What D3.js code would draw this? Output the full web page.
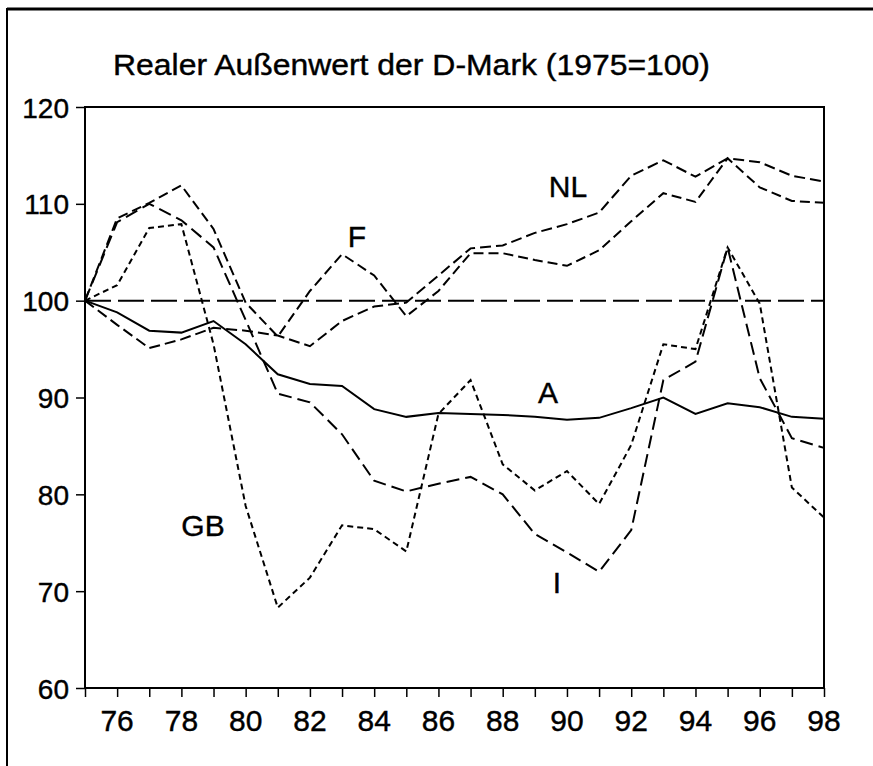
<!DOCTYPE html>
<html>
<head>
<meta charset="utf-8">
<script src="https://cdn.jsdelivr.net/npm/d3@7"></script>
<style>
  body { margin: 0; background: #fff; }
  svg { display: block; }
  text { font-family: "Liberation Sans", Arial, sans-serif; fill: #000; stroke: #000; stroke-width: 0.4px; }
</style>
</head>
<body>
<div id="chart"></div>
<script>
// years and series (1975 = 100)
var years = [1975, 1976, 1977, 1978, 1979, 1980, 1981, 1982, 1983, 1984, 1985, 1986,
             1987, 1988, 1989, 1990, 1991, 1992, 1993, 1994, 1995, 1996, 1997, 1998];
var seriesA  = [100, 98.8, 96.9, 96.7, 97.9, 95.5, 92.4, 91.4, 91.2, 88.8, 88.0, 88.4,
                88.3, 88.2, 88.0, 87.7, 87.9, 88.9, 90.0, 88.3, 89.4, 89.0, 88.0, 87.8];
var seriesNL = [100, 97.5, 95.1, 96.0, 97.2, 96.9, 96.4, 95.3, 97.9, 99.4, 99.8, 102.6,
                105.4, 105.7, 107.0, 107.9, 109.1, 112.9, 114.5, 112.8, 114.7, 114.3, 112.9, 112.3];
var seriesF  = [100, 108.5, 110.1, 111.9, 107.4, 99.8, 96.3, 101.0, 104.8, 102.6, 98.4, 101.0,
                104.9, 104.9, 104.2, 103.6, 105.2, 108.2, 111.1, 110.2, 114.7, 111.7, 110.3, 110.1];
var seriesGB = [100, 101.6, 107.5, 107.9, 95.5, 78.8, 68.3, 71.4, 76.8, 76.4, 74.1, 88.3,
                91.8, 83.1, 80.4, 82.4, 79.0, 85.1, 95.5, 95.0, 105.5, 99.7, 80.7, 77.6];
var seriesI  = [100, 108.1, 110.0, 108.3, 105.5, 98.0, 90.4, 89.5, 86.2, 81.4, 80.3, 81.1,
                81.8, 80.0, 75.9, 74.0, 72.0, 76.3, 91.8, 93.7, 105.5, 92.0, 85.8, 84.8];
var yTicks = [60, 70, 80, 90, 100, 110, 120];
var xLabelYears = [1976, 1978, 1980, 1982, 1984, 1986, 1988, 1990, 1992, 1994, 1996, 1998];
var titleText = "Realer Außenwert der D-Mark (1975=100)";

var w = 873, h = 766;
var mLeft = 85, mRight = 824, mTop = 107, mBottom = 688;

var svg = d3.select("#chart").append("svg")
    .attr("width", w)
    .attr("height", h);

// outer frame (top and left edge)
svg.append("line").attr("x1", 7).attr("x2", w).attr("y1", 9).attr("y2", 9)
   .attr("stroke", "#000").attr("stroke-width", 3);
svg.append("line").attr("x1", 7).attr("x2", 7).attr("y1", 8).attr("y2", h)
   .attr("stroke", "#000").attr("stroke-width", 2);

var x = d3.scaleLinear().domain([1975, 1998]).range([mLeft, mRight]);
var y = d3.scaleLinear().domain([60, 120]).range([mBottom, mTop]);

// title
svg.append("text")
   .attr("x", 113).attr("y", 75)
   .attr("textLength", 597)
   .attr("lengthAdjust", "spacingAndGlyphs")
   .style("font-size", "29px")
   .text(titleText);

// axes
var yAxis = d3.axisLeft(y).tickValues(yTicks).tickSize(9).tickPadding(7)
    .tickFormat(d3.format("d"));
var gy = svg.append("g").attr("transform", "translate(" + mLeft + ",0)").call(yAxis);
gy.select(".domain").remove();
gy.selectAll("line").attr("stroke-width", 1.5);
gy.selectAll("text")
  .style("font-size", "28px")
  .style("font-family", "'Liberation Sans', Arial, sans-serif")
  .attr("dy", "0.36em");

var xAxis = d3.axisBottom(x).tickValues(years).tickSize(9).tickFormat("");
var gx = svg.append("g").attr("transform", "translate(0," + mBottom + ")").call(xAxis);
gx.select(".domain").remove();
gx.selectAll("line").attr("stroke-width", 1.5);

svg.selectAll(".xlab")
   .data(xLabelYears)
   .enter()
   .append("text")
   .attr("class", "xlab")
   .attr("x", function(d) { return x(d); })
   .attr("y", 731)
   .attr("text-anchor", "middle")
   .style("font-size", "30px")
   .text(function(d) { return String(d).slice(2); });

// plot box
svg.append("rect")
   .attr("x", mLeft).attr("y", mTop)
   .attr("width", mRight - mLeft).attr("height", mBottom - mTop)
   .attr("fill", "none").attr("stroke", "#000").attr("stroke-width", 2);

// reference line at 100
svg.append("line")
   .attr("x1", x(1975)).attr("x2", x(1998))
   .attr("y1", y(100)).attr("y2", y(100))
   .attr("stroke", "#000").attr("stroke-width", 2)
   .attr("stroke-dasharray", "26,7");

var line = d3.line()
    .x(function(d, i) { return x(years[i]); })
    .y(function(d) { return y(d); });

var series = [
    { name: "A",  values: seriesA,  dash: null },
    { name: "NL", values: seriesNL, dash: "11,5" },
    { name: "F",  values: seriesF,  dash: "10,5" },
    { name: "GB", values: seriesGB, dash: "6,4" },
    { name: "I",  values: seriesI,  dash: "13,6" }
];

svg.selectAll(".series")
   .data(series)
   .enter()
   .append("path")
   .attr("class", "series")
   .attr("d", function(d) { return line(d.values); })
   .attr("fill", "none")
   .attr("stroke", "#000")
   .attr("stroke-width", 2)
   .attr("stroke-linejoin", "miter")
   .attr("stroke-dasharray", function(d) { return d.dash; });

// series labels
var labels = [
    { t: "NL", px: 568, py: 197 },
    { t: "F",  px: 357, py: 247 },
    { t: "A",  px: 548, py: 403 },
    { t: "GB", px: 203, py: 536 },
    { t: "I",  px: 557, py: 593 }
];
svg.selectAll(".lab")
   .data(labels)
   .enter()
   .append("text")
   .attr("class", "lab")
   .attr("x", function(d) { return d.px; })
   .attr("y", function(d) { return d.py; })
   .attr("text-anchor", "middle")
   .style("font-size", "30px")
   .text(function(d) { return d.t; });
</script>
</body>
</html>
